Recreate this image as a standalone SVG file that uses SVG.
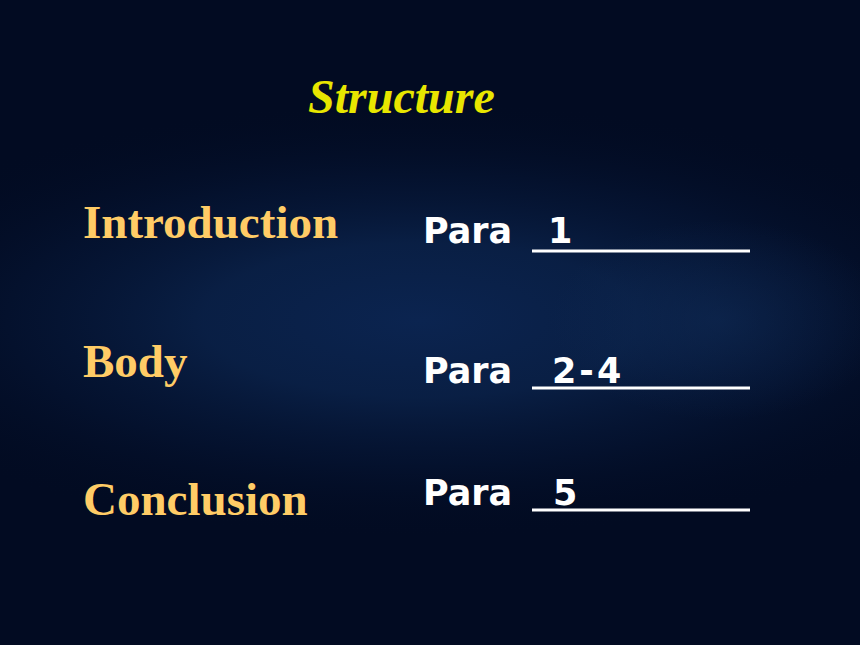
<svg xmlns="http://www.w3.org/2000/svg" width="860" height="645" viewBox="0 0 860 645">
<style>
.title{font-family:"Liberation Serif",serif;font-weight:bold;font-style:italic;font-size:48px;fill:#E8E600}
.lbl{font-family:"Liberation Serif",serif;font-weight:bold;font-size:47px;fill:#FFCC66}
.para{font-family:"DejaVu Sans",sans-serif;font-weight:bold;font-size:35px;fill:#FFFFFF}
.ul{stroke:#FFFFFF;stroke-width:3}
</style>
<defs>
<radialGradient id="band" cx="0" cy="0" r="1" gradientUnits="userSpaceOnUse" gradientTransform="translate(420 320) scale(620 220)">
<stop offset="0" stop-color="#0b2450"/>
<stop offset="0.35" stop-color="#0a2148" stop-opacity="0.9"/>
<stop offset="0.65" stop-color="#061738" stop-opacity="0.55"/>
<stop offset="1" stop-color="#020b22" stop-opacity="0"/>
</radialGradient>
<radialGradient id="glow" cx="0" cy="0" r="1" gradientUnits="userSpaceOnUse" gradientTransform="translate(720 320) scale(170 100)">
<stop offset="0" stop-color="#12305e" stop-opacity="0.45"/>
<stop offset="1" stop-color="#12305e" stop-opacity="0"/>
</radialGradient>
</defs>
<rect width="860" height="645" fill="#020b22"/>
<rect width="860" height="645" fill="url(#band)"/>
<rect width="860" height="645" fill="url(#glow)"/>
<g id="title"><text class="title" x="308" y="113">Structure</text></g>
<g id="intro">
<text class="lbl" x="83" y="238">Introduction</text>
<text class="para" x="423" y="243">Para</text>
<text class="para" x="548" y="243">1</text>
<line class="ul" x1="532" y1="251" x2="750" y2="251"/>
</g>
<g id="body">
<text class="lbl" x="83" y="377">Body</text>
<text class="para" x="423" y="383">Para</text>
<text class="para" x="552" y="383" letter-spacing="3">2-4</text>
<line class="ul" x1="532" y1="388" x2="750" y2="388"/>
</g>
<g id="conclusion">
<text class="lbl" x="83" y="515">Conclusion</text>
<text class="para" x="423" y="505">Para</text>
<text class="para" x="553" y="505">5</text>
<line class="ul" x1="532" y1="510" x2="750" y2="510"/>
</g>
<g id="connectors"></g>
</svg>
